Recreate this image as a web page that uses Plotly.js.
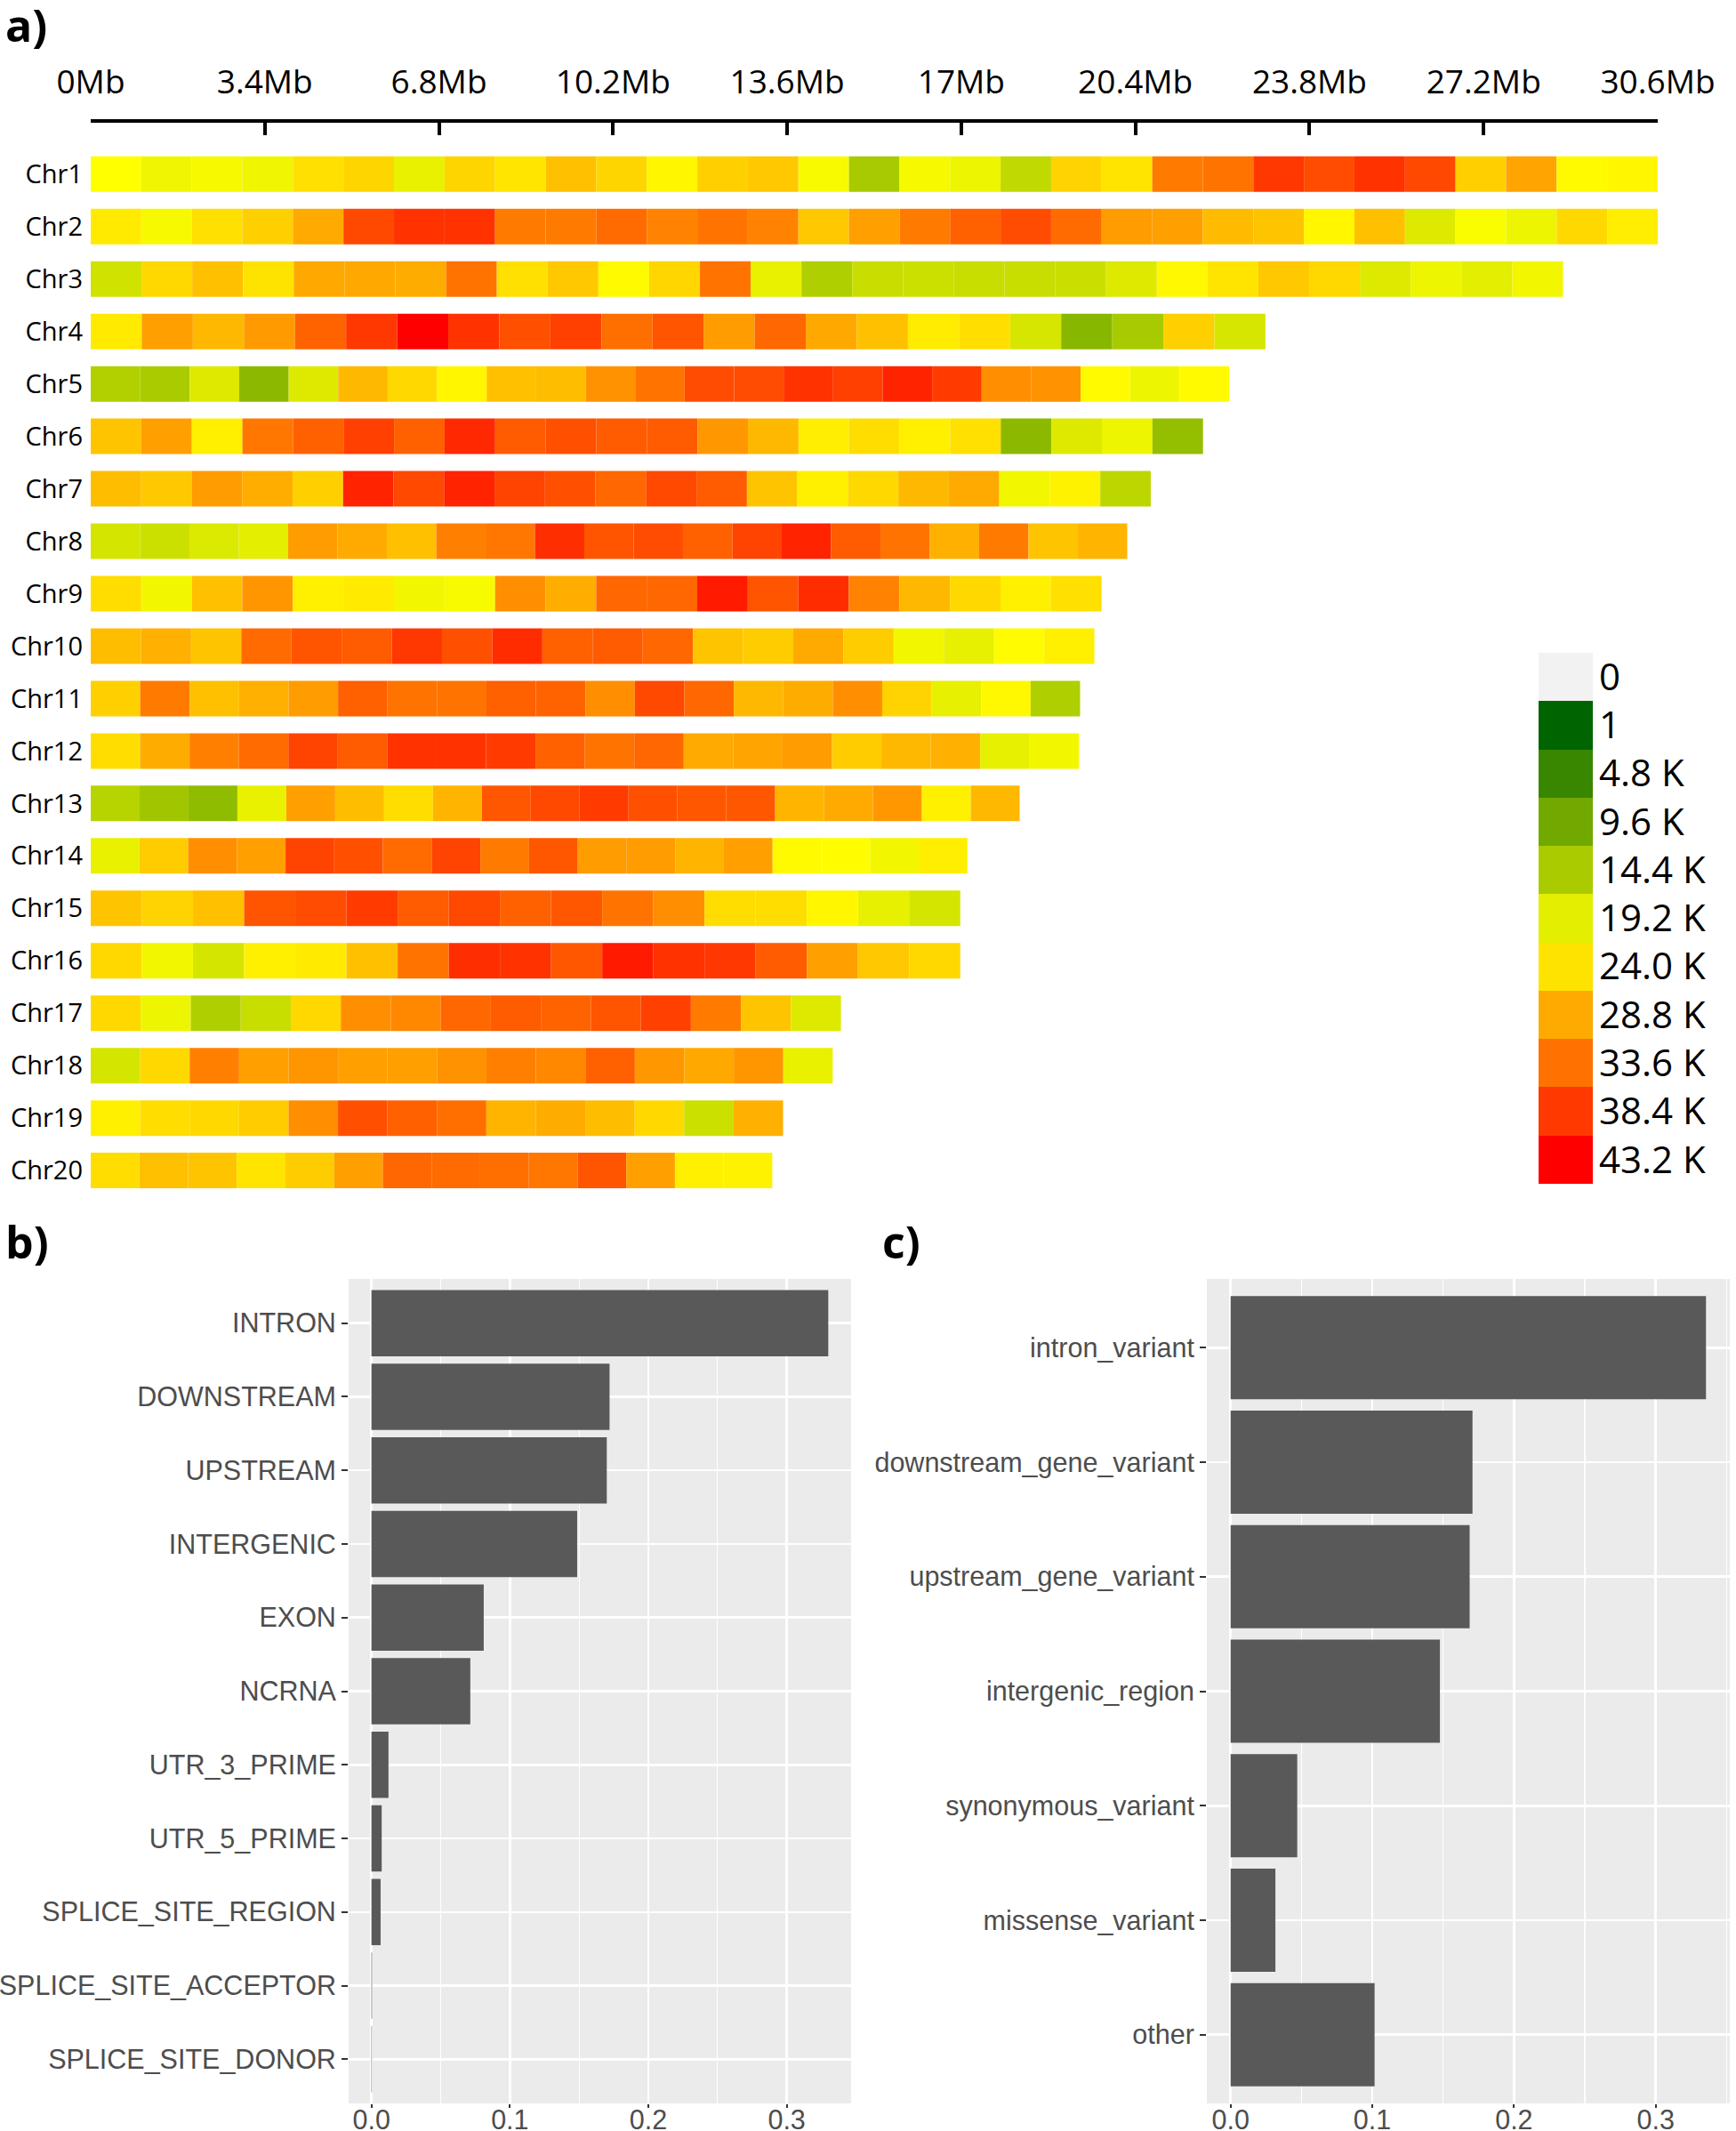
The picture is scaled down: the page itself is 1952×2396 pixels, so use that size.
<!DOCTYPE html>
<html>
<head>
<meta charset="utf-8">
<script src="https://cdn.plot.ly/plotly-3.0.1.min.js"></script>
<style>
html,body{margin:0;padding:0;background:#ffffff;}
#chart{width:1952px;height:2396px;}
</style>
</head>
<body>
<div id="chart"></div>
<script>
// ---------- Panel a: SNP density per ~1 Mb window (values in thousands of SNPs) ----------
const chromosomes = ['Chr1','Chr2','Chr3','Chr4','Chr5','Chr6','Chr7','Chr8','Chr9','Chr10',
                     'Chr11','Chr12','Chr13','Chr14','Chr15','Chr16','Chr17','Chr18','Chr19','Chr20'];
const chromLengthMb = [30.6, 30.6, 28.75, 22.94, 22.23, 21.72, 20.70, 20.24, 19.74, 19.60,
                       19.32, 19.30, 18.14, 17.12, 16.98, 16.98, 14.65, 14.49, 13.52, 13.31];

const chr1  = [21.6, 20.3, 20.8, 20.3, 24.2, 25.2, 19.7, 25.2, 23.8, 26.9, 25.2, 22.4, 25.6, 26.3, 21.0, 14.2, 20.8, 20.2, 16.3, 25.3, 23.9, 32.8, 33.4, 38.5, 36.8, 39.0, 37.1, 25.6, 29.3, 22.0, 22.4];
const chr2  = [23.4, 20.8, 24.2, 25.6, 28.8, 37.1, 39.0, 39.0, 32.8, 32.8, 34.1, 32.1, 33.4, 32.1, 26.3, 29.7, 32.8, 35.1, 36.8, 34.1, 30.0, 29.7, 27.4, 26.6, 22.4, 26.9, 18.7, 21.2, 20.2, 24.9, 23.0];
const chr3  = [17.6, 24.9, 26.9, 24.0, 28.9, 28.9, 28.6, 33.4, 24.2, 26.3, 22.0, 25.1, 33.4, 19.7, 14.9, 17.0, 17.3, 16.9, 16.9, 17.1, 18.7, 22.2, 23.9, 26.3, 24.9, 18.7, 20.2, 19.3, 20.5];
const chr4  = [23.4, 29.7, 27.6, 30.1, 34.8, 38.5, 43.2, 39.0, 36.4, 37.8, 33.8, 36.1, 30.0, 34.5, 28.9, 26.9, 23.2, 24.4, 18.1, 11.5, 14.2, 25.6, 18.1];
const chr5  = [15.1, 14.4, 18.7, 11.9, 18.7, 27.6, 24.9, 22.4, 26.9, 27.2, 30.8, 33.4, 36.8, 36.8, 39.0, 37.8, 40.2, 38.2, 31.1, 30.8, 22.0, 20.2, 22.0];
const chr6  = [26.6, 29.7, 22.9, 33.1, 35.1, 37.8, 35.1, 39.8, 35.5, 36.4, 35.5, 35.5, 30.3, 27.6, 23.0, 24.5, 22.9, 24.2, 11.9, 18.7, 20.2, 12.5];
const chr7  = [27.2, 26.3, 30.0, 28.5, 25.6, 40.2, 37.1, 40.2, 37.5, 36.4, 34.5, 37.1, 35.5, 26.6, 22.9, 24.9, 27.6, 28.8, 20.5, 22.7, 15.9];
const chr8  = [18.0, 17.3, 18.6, 19.2, 30.0, 28.8, 26.9, 32.4, 33.1, 39.3, 36.1, 36.8, 35.1, 37.5, 40.2, 35.5, 33.4, 28.3, 32.8, 26.6, 27.9];
const chr9  = [24.5, 20.5, 26.9, 30.5, 22.9, 23.4, 20.5, 21.0, 31.1, 28.5, 34.5, 34.5, 41.0, 36.1, 39.5, 32.1, 27.6, 24.9, 22.9, 24.2];
const chr10 = [27.2, 28.3, 26.6, 34.1, 36.1, 35.5, 38.5, 36.4, 39.5, 35.1, 35.5, 34.5, 26.6, 25.9, 28.8, 25.9, 20.5, 19.5, 21.9, 22.9];
const chr11 = [25.6, 32.8, 26.9, 28.3, 30.0, 35.1, 33.4, 33.4, 35.1, 34.8, 31.1, 37.1, 34.5, 27.6, 28.6, 31.1, 25.3, 19.5, 22.2, 14.9];
const chr12 = [24.5, 28.6, 32.4, 34.1, 37.5, 35.5, 39.0, 39.0, 38.2, 35.1, 33.4, 34.5, 28.8, 29.3, 30.0, 25.9, 27.6, 28.3, 19.5, 20.5];
const chr13 = [15.6, 13.6, 12.2, 19.7, 29.7, 27.2, 24.5, 27.9, 35.8, 37.0, 38.2, 36.4, 35.8, 35.8, 27.9, 28.8, 30.3, 22.9, 27.6];
const chr14 = [19.7, 25.9, 31.1, 29.7, 37.5, 36.4, 34.1, 37.5, 32.8, 35.8, 30.0, 30.0, 27.9, 29.7, 22.0, 21.8, 20.5, 23.0];
const chr15 = [26.6, 25.3, 26.9, 36.1, 36.8, 38.2, 35.5, 37.1, 35.1, 35.8, 33.4, 31.1, 24.5, 24.5, 22.4, 19.5, 18.0];
const chr16 = [24.9, 20.5, 18.0, 22.9, 23.4, 26.9, 33.4, 39.3, 39.0, 35.8, 41.0, 39.0, 38.5, 35.5, 29.7, 26.3, 24.9];
const chr17 = [24.9, 20.2, 14.9, 16.9, 24.9, 31.1, 31.7, 34.5, 35.5, 34.8, 36.1, 37.8, 32.8, 26.6, 18.7];
const chr18 = [18.0, 24.9, 32.4, 29.7, 30.5, 29.7, 29.7, 30.8, 32.4, 31.7, 35.1, 30.3, 28.9, 30.5, 19.7];
const chr19 = [22.9, 24.5, 24.9, 25.9, 31.1, 36.4, 35.1, 33.8, 27.9, 28.6, 27.2, 24.9, 17.3, 28.3];
const chr20 = [24.5, 26.9, 26.6, 23.9, 25.9, 29.7, 34.5, 34.1, 33.8, 33.1, 36.1, 29.7, 22.9, 22.7];
const densityK = [chr1, chr2, chr3, chr4, chr5, chr6, chr7, chr8, chr9, chr10,
                  chr11, chr12, chr13, chr14, chr15, chr16, chr17, chr18, chr19, chr20];

const mbTickVals = [0, 3.4, 6.8, 10.2, 13.6, 17, 20.4, 23.8, 27.2, 30.6];
const mbTickText = ['0Mb', '3.4Mb', '6.8Mb', '10.2Mb', '13.6Mb', '17Mb', '20.4Mb', '23.8Mb', '27.2Mb', '30.6Mb'];

const legendLabels = ['0', '1', '4.8 K', '9.6 K', '14.4 K', '19.2 K', '24.0 K', '28.8 K', '33.6 K', '38.4 K', '43.2 K'];
const legendColors = ['#F2F2F2', '#006400', '#398600', '#71A900', '#AACB00', '#E3EE00',
                      '#FFE300', '#FFAA00', '#FF7100', '#FF3900', '#FF0000'];
const densityMaxK = 43.2;

// ---------- Panel b: functional classes ----------
const funcCats = ['INTRON', 'DOWNSTREAM', 'UPSTREAM', 'INTERGENIC', 'EXON', 'NCRNA',
                  'UTR_3_PRIME', 'UTR_5_PRIME', 'SPLICE_SITE_REGION', 'SPLICE_SITE_ACCEPTOR', 'SPLICE_SITE_DONOR'];
const funcVals = [0.330, 0.172, 0.170, 0.1486, 0.0811, 0.0714, 0.0123, 0.0074, 0.0066, 0.0004, 0.0003];

// ---------- Panel c: effect classes ----------
const effCats = ['intron_variant', 'downstream_gene_variant', 'upstream_gene_variant', 'intergenic_region',
                 'synonymous_variant', 'missense_variant', 'other'];
const effVals = [0.3355, 0.1707, 0.1687, 0.1477, 0.047, 0.0316, 0.1016];

const propTickVals = [0, 0.1, 0.2, 0.3];
const propTickText = ['0.0', '0.1', '0.2', '0.3'];

// ---------- build ----------
const W = 1952, H = 2396;
const px = v => v / W;
const py = v => 1 - v / H;

const segY = [], segBase = [], segW = [], segC = [];
chromosomes.forEach((name, ci) => {
  const vals = densityK[ci];
  const w = chromLengthMb[ci] / vals.length;
  vals.forEach((v, i) => {
    segY.push(name); segBase.push(i * w); segW.push(w); segC.push(v);
  });
});

const densityTrace = {
  type: 'bar', orientation: 'h',
  y: segY, x: segW, base: segBase,
  width: 0.678,
  marker: {
    color: segC, cmin: 0, cmax: densityMaxK,
    colorscale: [[0, '#006400'], [0.5, '#FFFF00'], [1, '#FF0000']],
    showscale: false, line: {width: 0}
  },
  xaxis: 'x', yaxis: 'y', hoverinfo: 'skip'
};

const legendTrace = {
  type: 'heatmap',
  x: [0], y: legendLabels,
  z: legendLabels.map((_, i) => [i]),
  zmin: 0, zmax: legendLabels.length - 1,
  colorscale: legendColors.map((c, i) => [i / (legendColors.length - 1), c]),
  showscale: false, xaxis: 'x4', yaxis: 'y4', hoverinfo: 'skip'
};

const funcTrace = {
  type: 'bar', orientation: 'h', y: funcCats, x: funcVals, width: 0.9,
  marker: {color: '#595959', line: {width: 0}}, xaxis: 'x2', yaxis: 'y2', hoverinfo: 'skip'
};
const effTrace = {
  type: 'bar', orientation: 'h', y: effCats, x: effVals, width: 0.9,
  marker: {color: '#595959', line: {width: 0}}, xaxis: 'x3', yaxis: 'y3', hoverinfo: 'skip'
};

const ggFont = {family: 'Liberation Sans, Arial, sans-serif', size: 30.5, color: '#4D4D4D'};
const aFont = {family: 'Open Sans, sans-serif', color: '#000000'};

const ggX = (domain, range, minorVals, anchor) => ({
  domain: domain, range: range, tickvals: propTickVals, ticktext: propTickText, anchor: anchor,
  showgrid: true, gridcolor: '#FFFFFF', gridwidth: 2.6, zeroline: false, showline: false,
  ticks: 'outside', ticklen: 4, tickwidth: 2, tickcolor: '#333333',
  ticklabelstandoff: -13,
  tickfont: ggFont,
  minor: {tickvals: minorVals, showgrid: true, gridcolor: '#FFFFFF', gridwidth: 1.3, ticks: ''}
});
const ggY = (domain, cats, anchor) => ({
  domain: domain, type: 'category', categoryarray: cats, range: [cats.length - 0.4, -0.6],
  showgrid: true, gridcolor: '#FFFFFF', gridwidth: 2.6, zeroline: false, showline: false,
  ticks: 'outside', ticklen: 7, tickwidth: 2, tickcolor: '#333333',
  tickfont: ggFont, anchor: anchor
});

const labelFont = {family: 'Open Sans, sans-serif', size: 50, color: '#000000'};

const layout = {
  width: W, height: H,
  margin: {l: 0, r: 0, t: 0, b: 0, pad: 0},
  paper_bgcolor: '#FFFFFF', plot_bgcolor: 'rgba(0,0,0,0)',
  showlegend: false, barmode: 'overlay',
  xaxis: {
    domain: [px(102), px(1864)], range: [0, 30.6], side: 'top', anchor: 'y',
    tickvals: mbTickVals, ticktext: mbTickText,
    showline: true, linecolor: '#000000', linewidth: 4,
    ticks: 'inside', ticklen: 14, tickwidth: 4, tickcolor: '#000000',
    ticklabelstandoff: 14,
    showgrid: false, zeroline: false,
    tickfont: Object.assign({size: 37}, aFont)
  },
  yaxis: {
    domain: [py(1345), py(138)], type: 'category', categoryarray: chromosomes,
    range: [19.49, -0.98], anchor: 'x',
    showgrid: false, zeroline: false, showline: false, ticks: '',
    ticklabelstandoff: 8,
    tickfont: Object.assign({size: 29}, aFont)
  },
  xaxis2: ggX([px(392), px(957)], [-0.0165, 0.3465], [0.05, 0.15, 0.25], 'y2'),
  yaxis2: ggY([py(2365), py(1438)], funcCats, 'x2'),
  xaxis3: ggX([px(1357), px(1945)], [-0.0168, 0.3523], [0.05, 0.15, 0.25, 0.35], 'y3'),
  yaxis3: ggY([py(2365), py(1438)], effCats, 'x3'),
  xaxis4: {domain: [px(1730), px(1791)], range: [-0.5, 0.5], visible: false, anchor: 'y4', fixedrange: true},
  yaxis4: {
    domain: [py(1331), py(734)], type: 'category', categoryarray: legendLabels,
    range: [legendLabels.length - 0.5, -0.5], anchor: 'x4', side: 'right',
    showgrid: false, zeroline: false, showline: false, ticks: '',
    ticklabelstandoff: 6,
    tickfont: Object.assign({size: 42}, aFont)
  },
  shapes: [
    {type: 'rect', xref: 'x2 domain', yref: 'y2 domain', x0: 0, x1: 1, y0: 0, y1: 1,
     fillcolor: '#EBEBEB', line: {width: 0}, layer: 'below'},
    {type: 'rect', xref: 'x3 domain', yref: 'y3 domain', x0: 0, x1: 1, y0: 0, y1: 1,
     fillcolor: '#EBEBEB', line: {width: 0}, layer: 'below'}
  ],
  annotations: [
    {text: '<b>a)</b>', xref: 'paper', yref: 'paper', x: px(4), y: py(-8), xanchor: 'left', yanchor: 'top',
     showarrow: false, font: labelFont},
    {text: '<b>b)</b>', xref: 'paper', yref: 'paper', x: px(4), y: py(1360), xanchor: 'left', yanchor: 'top',
     showarrow: false, font: labelFont},
    {text: '<b>c)</b>', xref: 'paper', yref: 'paper', x: px(990), y: py(1360), xanchor: 'left', yanchor: 'top',
     showarrow: false, font: labelFont}
  ]
};

Plotly.newPlot('chart', [densityTrace, funcTrace, effTrace, legendTrace], layout,
  {staticPlot: true, displayModeBar: false});
</script>
</body>
</html>
